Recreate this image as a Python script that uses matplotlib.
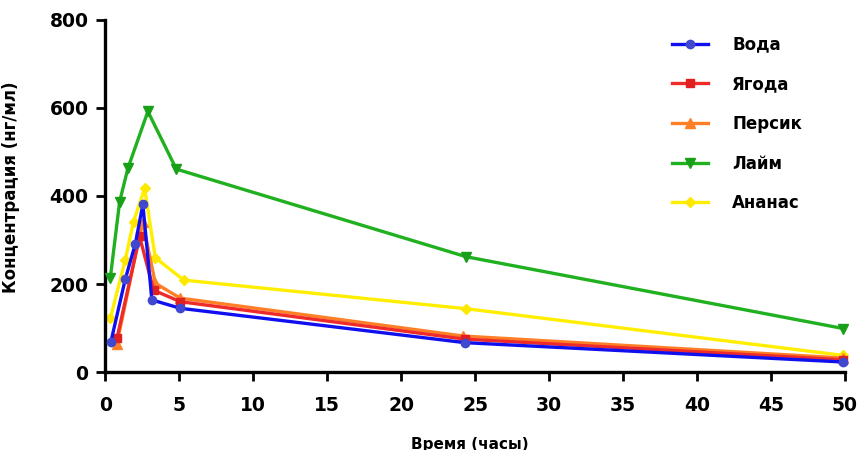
import matplotlib
matplotlib.use("Agg")
import matplotlib.pyplot as plt

# Data (time in hours, concentration in ng/ml)
water_t = [0.38, 1.35, 2.03, 2.54, 3.15, 5.07, 24.3, 49.9]
water_c = [69, 211, 291, 381, 164, 145, 67, 23]

berry_t = [0.79, 2.32, 3.27, 5.07, 24.3, 49.9]
berry_c = [77, 308, 186, 160, 75, 28]

peach_t = [0.79, 2.52, 3.38, 5.07, 24.2, 49.9]
peach_c = [65, 342, 202, 168, 82, 32]

lime_t = [0.34, 0.97, 1.53, 2.88, 4.8, 24.4, 49.9]
lime_c = [214, 387, 463, 592, 461, 262, 99]

pine_t = [0.34, 1.35, 1.91, 2.66, 3.38, 5.3, 24.4, 49.9]
pine_c = [122, 255, 342, 417, 260, 209, 144, 38]

labels = ["Вода", "Ягода", "Персик", "Лайм", "Ананас"]
xticks = [0, 5, 10, 15, 20, 25, 30, 35, 40, 45, 50]
yticks = [0, 200, 400, 600, 800]

plt.rcParams['font.family'] = ['DejaVu Sans']

fig = plt.figure(figsize=(8.63, 4.50), dpi=100)
ax = fig.add_axes([0.122, 0.173, 0.857, 0.783])

series = [
    (water_t, water_c, '#1010ee', '#4048d0', 'o', 6, 6),
    (berry_t, berry_c, '#ee2a2a', '#e02020', 's', 5.5, 5),
    (peach_t, peach_c, '#ff7f27', '#ff7f27', '^', 6.5, 4),
    (lime_t, lime_c, '#20b020', '#18a018', 'v', 6.5, 3),
    (pine_t, pine_c, '#ffee00', '#ffe800', 'D', 5.5, 2),
]
handles = []
for (t, c, col, mcol, m, ms, z), lab in zip(series, labels):
    h, = ax.plot(t, c, color=col, lw=2.4, marker=m, ms=ms, mfc=mcol, mec=mcol,
                 zorder=z, label=lab, clip_on=False)
    handles.append(h)

ax.set_xlim(0, 50)
ax.set_ylim(0, 800)
ax.set_xticks(xticks)
ax.set_yticks(yticks)
ax.set_xticklabels([str(v) for v in xticks], fontsize=13.5, fontweight='bold')
ax.set_yticklabels([str(v) for v in yticks], fontsize=13.5, fontweight='bold')
for s in ['top', 'right']:
    ax.spines[s].set_visible(False)
for s in ['left', 'bottom']:
    ax.spines[s].set_linewidth(2.4)
ax.tick_params(width=2, length=6.5, direction='out')
ax.tick_params(axis='x', pad=10.5)
ax.tick_params(axis='y', pad=5.5)

ax.set_xlabel("Время (часы)", fontsize=11, fontweight='bold')
ax.set_ylabel("Концентрация (нг/мл)", fontsize=12, fontweight='bold')
ax.xaxis.set_label_coords(0.493, -0.183)
ax.yaxis.set_label_coords(-0.115, 0.526)

leg = ax.legend(handles=handles, loc='upper left', bbox_to_anchor=(0.766, 0.955),
                frameon=False, prop={'weight': 'bold', 'size': 12},
                handlelength=2.17, labelspacing=1.3, handletextpad=1.45,
                borderaxespad=0, borderpad=0)

fig.savefig("out.png", dpi=100)
